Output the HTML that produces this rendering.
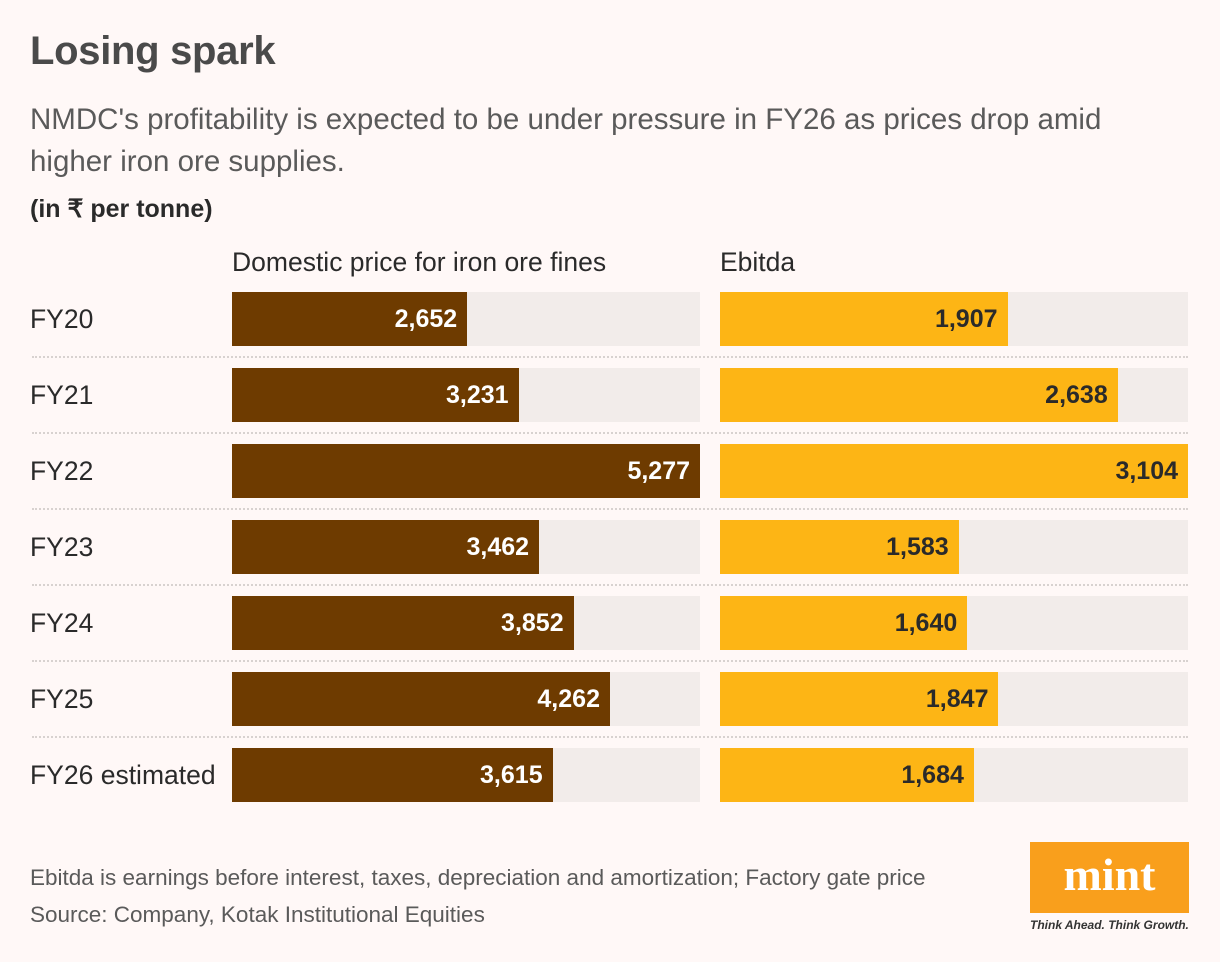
<!DOCTYPE html>
<html><head><meta charset="utf-8">
<style>
body{margin:0;width:1220px;height:962px;background:#fff8f7;font-family:"Liberation Sans",sans-serif;overflow:hidden;position:relative}
.t{position:absolute;white-space:nowrap}
</style></head><body>
<div class="t" style="left:30px;top:29px;font-size:40px;font-weight:bold;color:#4a4a4a;letter-spacing:-0.3px">Losing spark</div>
<div class="t" style="left:30px;top:99px;font-size:29.5px;color:#5a5a5a;line-height:42px;white-space:normal;width:1115px">NMDC's profitability is expected to be under pressure in FY26 as prices drop amid higher iron ore supplies.</div>
<div class="t" style="left:30px;top:194px;font-size:25px;font-weight:bold;color:#2a2a2a">(in ₹ per tonne)</div>
<div class="t" style="left:232px;top:247px;font-size:26.5px;color:#2a2a2a">Domestic price for iron ore fines</div>
<div class="t" style="left:720px;top:247px;font-size:26.5px;color:#2a2a2a">Ebitda</div>
<div id="chart"></div>
<div class="t" style="left:30px;top:865px;font-size:22.5px;color:#5a5a5a">Ebitda is earnings before interest, taxes, depreciation and amortization; Factory gate price</div>
<div class="t" style="left:30px;top:902px;font-size:22.5px;color:#5a5a5a">Source: Company, Kotak Institutional Equities</div>
<div style="position:absolute;left:1030px;top:842px;width:159px;height:71px;background:#f99f1c;color:#fff;font-family:'Liberation Serif',serif;font-weight:bold;font-size:46px;text-align:center;line-height:66px">mint</div>
<div class="t" style="left:1030px;top:918px;font-size:12px;font-style:italic;font-weight:bold;color:#333">Think Ahead. Think Growth.</div>
<script>
const categories=["FY20","FY21","FY22","FY23","FY24","FY25","FY26 estimated"];
const priceValues=[2652,3231,5277,3462,3852,4262,3615];
const ebitdaValues=[1907,2638,3104,1583,1640,1847,1684];
const W=468,top0=292,step=76,bh=54;
const c=document.getElementById('chart');
function xPrice(v){return v/Math.max(...priceValues)*W;}
function xEbitda(v){return v/Math.max(...ebitdaValues)*W;}
function fmt(v){return v.toLocaleString('en-US');}
function mk(style,txt){const d=document.createElement('div');d.style.cssText='position:absolute;'+style;if(txt!==undefined)d.textContent=txt;c.appendChild(d);return d;}
categories.forEach((cat,i)=>{
  const y=top0+i*step;
  const l=mk(`left:30px;top:${y}px;height:${bh}px;line-height:${bh}px;font-size:26.5px;color:#2a2a2a;white-space:nowrap`,cat);
  
  
  [[232,xPrice(priceValues[i]),'#6e3b00',priceValues[i],'price-bar'],[720,xEbitda(ebitdaValues[i]),'#fdb515',ebitdaValues[i],'ebitda-bar']].forEach(([x0,w,col,v,nm],k)=>{
    const tr=mk(`left:${x0}px;top:${y}px;width:${W}px;height:${bh}px;background:#f2ecea`);
    
    
    const b=mk(`left:${x0}px;top:${y}px;width:${w}px;height:${bh}px;background:${col}`);
    
    
    const t=mk(`left:${x0}px;top:${y}px;width:${w-10}px;height:${bh}px;line-height:${bh}px;text-align:right;font-size:25px;font-weight:bold;color:${k?'#2a2a2a':'#fff'}`,fmt(v));
    
    
  });
  if(i<categories.length-1){
    const s=mk(`left:32px;top:${y+bh+10}px;width:1156px;height:0;border-top:2px dotted #d8d2d0`);
    
    
  }
});
</script>
</body></html>
